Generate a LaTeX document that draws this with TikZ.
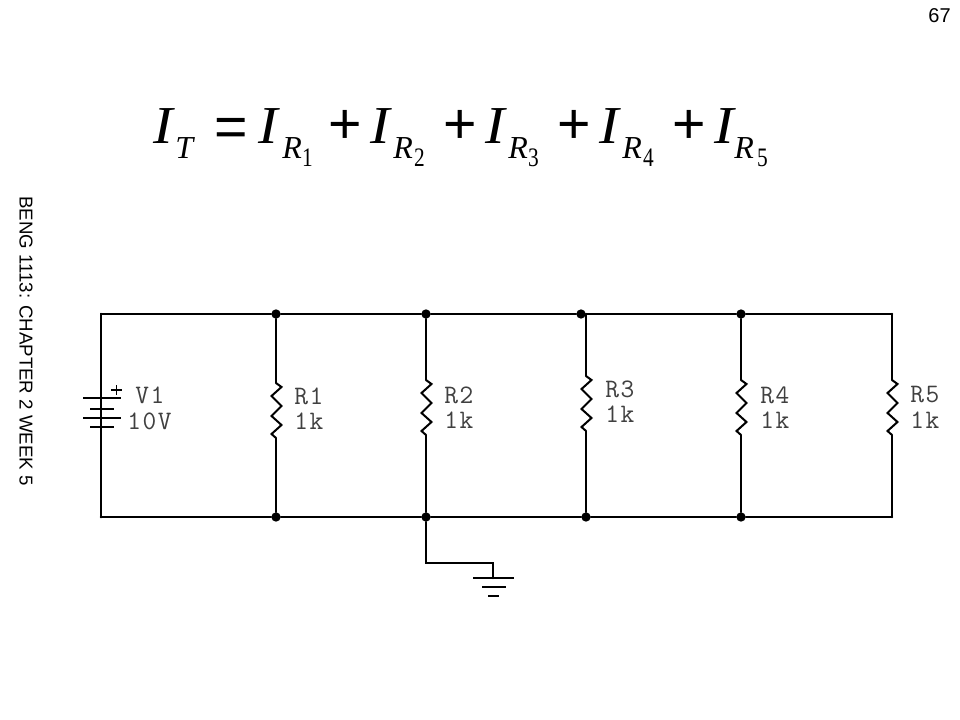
\documentclass[tikz,border=0pt]{standalone}
\usepackage{fontspec}
\setmainfont{Liberation Serif}
\newfontfamily\hdr[WordSpace=0.45]{Liberation Sans}
\newfontfamily\opsf{Liberation Sans}
\newfontfamily\lbl[LetterSpace=6]{Latin Modern Mono}
\tikzset{
  wire/.style={line width=1.9pt,line join=miter,line cap=round},
  thinwire/.style={line width=1.4pt},
  zigwire/.style={line width=1.5pt,line join=miter},
  dotj/.style={circle,fill=black,inner sep=0pt,minimum size=7pt},
  rlabel/.style={font=\lbl\fontsize{20}{20}\selectfont,inner sep=0pt,anchor=west,text=black!75},
  bigI/.style={font=\fontsize{40}{40}\selectfont\itshape,inner sep=0pt,anchor=base west,xscale=1.1},
  subR/.style={font=\fontsize{24}{24}\selectfont\itshape,inner sep=0pt,anchor=base west},
  subN/.style={font=\fontsize{20}{20}\selectfont,inner sep=0pt,anchor=base west,xscale=0.8},
  opsym/.style={font=\opsf\fontsize{43}{43}\selectfont,inner sep=0pt,anchor=base west},
  hdrt/.style={font=\hdr\fontsize{14}{14}\selectfont,inner sep=0pt},
  pgt/.style={font=\opsf\fontsize{15}{15}\selectfont,inner sep=0pt}
}
\begin{document}
\begin{tikzpicture}[x=0.75pt,y=-0.75pt]
\useasboundingbox (0,0) rectangle (960,720);
\fill[white] (0,0) rectangle (960,720);
% header texts
\node[pgt] (pg) at (939.5,16) {67};
\node[hdrt,rotate=-90] (side) at (26,341) {BENG 1113: CHAPTER 2 WEEK 5};
% equation
\node[bigI] (i0) at (153,144) {I};
\node[subR] (t0) at (175,158.5) {T};
\node[opsym] (eq) at (214,147) {=};
\foreach \n/\xi/\xr/\xn/\xp in {1/258/282/302/328, 2/370/393/414/443, 3/485/508/528/557, 4/599/622/643/672, 5/714/734/757/0}{
  \node[bigI] (i\n) at (\xi,144) {I};
  \node[subR] (r\n) at (\xr,158.5) {R};
  \node[subN] (n\n) at (\xn,167) {\n};
  \ifnum\xp>0 \node[opsym] (p\n) at (\xp,144) {+};\fi
}
% junctions
\node[dotj] (t1) at (276,314) {};
\node[dotj] (t2) at (426,314) {};
\node[dotj] (t3) at (581,314) {};
\node[dotj] (t4) at (741,314) {};
\node[dotj] (b1) at (276,517) {};
\node[dotj] (b2) at (426,517) {};
\node[dotj] (b3) at (586,517) {};
\node[dotj] (b4) at (741,517) {};
\coordinate (tl) at (101,314);
\coordinate (bl) at (101,517);
\coordinate (tr) at (892,314);
\coordinate (br) at (892,517);
\coordinate (t3r) at (586,314);
% rails
\draw[wire] (bl) -- (tl) -- (t1) -- (t2) -- (t3) -- (t4) -- (tr);
\draw[wire] (bl) -- (b1) -- (b2) -- (b3) -- (b4) -- (br);
% resistor branches
\foreach \nm/\x/\y/\tp/\bt in {1/276/383/t1/b1, 2/426/380/t2/b2, 3/586/376/t3r/b3, 4/741/380/t4/b4, 5/892/380/tr/br}{
  \coordinate (ra\nm) at (\x,\y);
  \coordinate (rb\nm) at (\x,\y+55);
  \draw[wire] (\tp) -- (ra\nm);
  \draw[zigwire] (ra\nm) -- ++(5.5,4) -- ++(-10,9) -- ++(10,10) -- ++(-10,10) -- ++(10,9) -- ++(-10,9) -- (rb\nm);
  \draw[wire] (rb\nm) -- (\bt);
}
% battery
\coordinate (ba) at (101,398);
\coordinate (bb) at (101,427);
\draw[wire] (tl) -- (ba);
\draw[wire] (bb) -- (bl);
\draw[thinwire] (83,398) -- (121,398);
\draw[thinwire] (90,409) -- (114,409);
\draw[thinwire] (83,418) -- (121,418);
\draw[thinwire] (90,427) -- (114,427);
\draw[line width=0.8pt] (111,390) -- (122,390) (116.5,385) -- (116.5,395);
% ground
\coordinate (g1) at (426,563);
\coordinate (g2) at (493,563);
\coordinate (g3) at (493,578);
\draw[wire] (b2) -- (g1) -- (g2) -- (g3);
\draw[thinwire] (473,578) -- (514,578);
\draw[thinwire] (482,587) -- (506,587);
\draw[thinwire] (488,596) -- (499,596);
% labels
\node[rlabel] (v1) at (135,395) {V1};
\node[rlabel] (v2) at (127,421) {10V};
\node[rlabel] (l1a) at (294,396) {R1};
\node[rlabel] (l1b) at (294,421) {1k};
\node[rlabel] (l2a) at (444,395) {R2};
\node[rlabel] (l2b) at (444,420) {1k};
\node[rlabel] (l3a) at (605,389) {R3};
\node[rlabel] (l3b) at (605,414) {1k};
\node[rlabel] (l4a) at (760,395) {R4};
\node[rlabel] (l4b) at (760,420) {1k};
\node[rlabel] (l5a) at (910,395) {R5};
\node[rlabel] (l5b) at (910,420) {1k};
\end{tikzpicture}
\end{document}
